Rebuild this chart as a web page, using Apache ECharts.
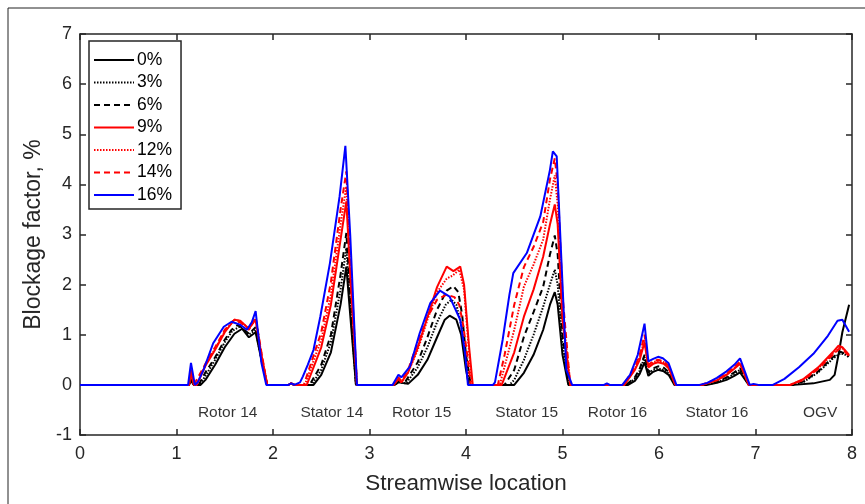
<!DOCTYPE html>
<html><head><meta charset="utf-8">
<script src="https://cdn.jsdelivr.net/npm/echarts@6/dist/echarts.min.js"></script>
<style>html,body{margin:0;padding:0;background:#fff}#c{width:865px;height:504px}</style>
</head><body><div id="c"></div>
<script>
var seriesNames = ['0%','3%','6%','9%','12%','14%','16%'];
var xTicks = [0,1,2,3,4,5,6,7,8];
var yTicks = [-1,0,1,2,3,4,5,6,7];
var stageNames = ['Rotor 14','Stator 14','Rotor 15','Stator 15','Rotor 16','Stator 16','OGV'];
var stageX = [1.53,2.61,3.54,4.63,5.57,6.6,7.67];
var stageY = [-0.56,-0.56,-0.56,-0.56,-0.56,-0.56,-0.56];

var p0 = [[0,0],[1.13,0],[1.15,0.08],[1.18,0],[1.25,0],[1.3,0.1],[1.4,0.4],[1.5,0.75],[1.6,1.02],[1.68,1.12],[1.75,0.95],[1.82,1.05],[1.88,0.5],[1.94,0],
[2.16,0],[2.19,0.03],[2.22,0],[2.42,0],[2.5,0.2],[2.6,0.65],[2.7,1.6],[2.76,2.36],[2.8,1.4],[2.86,0],
[3.26,0],[3.3,0.05],[3.4,0.02],[3.5,0.2],[3.6,0.5],[3.7,0.95],[3.78,1.3],[3.83,1.38],[3.9,1.3],[3.95,1.0],[4.0,0.3],[4.03,0],
[4.5,0],[4.6,0.24],[4.7,0.6],[4.8,1.1],[4.87,1.6],[4.92,1.85],[4.95,1.6],[5.0,0.6],[5.06,0],
[5.68,0],[5.75,0.08],[5.8,0.22],[5.85,0.45],[5.89,0.18],[5.94,0.26],[5.99,0.3],[6.05,0.27],[6.1,0.2],[6.16,0],
[6.5,0],[6.6,0.04],[6.7,0.1],[6.78,0.18],[6.84,0.25],[6.93,0],
[7.4,0],[7.6,0.03],[7.77,0.1],[7.82,0.2],[7.86,0.6],[7.9,1.05],[7.97,1.6]];

var p3 = [[0,0],[1.13,0],[1.15,0.12],[1.18,0],[1.24,0],[1.3,0.18],[1.4,0.5],[1.5,0.85],[1.58,1.08],[1.66,1.17],[1.75,1.0],[1.82,1.1],[1.88,0.5],[1.94,0],
[2.16,0],[2.19,0.03],[2.22,0],[2.4,0],[2.5,0.3],[2.6,0.85],[2.7,1.9],[2.76,2.73],[2.8,1.6],[2.86,0],
[3.26,0],[3.3,0.06],[3.38,0.03],[3.5,0.35],[3.6,0.75],[3.7,1.25],[3.79,1.6],[3.85,1.7],[3.9,1.6],[3.95,1.2],[4.0,0.5],[4.04,0],
[4.45,0],[4.5,0.1],[4.6,0.5],[4.7,1.0],[4.8,1.56],[4.87,2.0],[4.92,2.3],[4.95,2.0],[5.0,0.8],[5.07,0],
[5.66,0],[5.75,0.12],[5.8,0.28],[5.85,0.55],[5.89,0.22],[5.94,0.3],[5.99,0.33],[6.05,0.3],[6.1,0.23],[6.17,0],
[6.48,0],[6.6,0.05],[6.7,0.13],[6.78,0.22],[6.84,0.3],[6.93,0],
[7.38,0],[7.5,0.06],[7.65,0.25],[7.8,0.52],[7.88,0.63],[7.93,0.6],[7.97,0.55]];

var p6 = [[0,0],[1.13,0],[1.15,0.15],[1.18,0],[1.23,0],[1.3,0.25],[1.4,0.55],[1.5,0.9],[1.57,1.1],[1.64,1.2],[1.75,1.02],[1.82,1.15],[1.88,0.55],[1.94,0],
[2.16,0],[2.19,0.03],[2.22,0],[2.38,0],[2.5,0.4],[2.6,1.0],[2.7,2.2],[2.76,3.03],[2.8,1.8],[2.86,0],
[3.26,0],[3.3,0.08],[3.36,0.03],[3.5,0.45],[3.6,0.95],[3.7,1.5],[3.8,1.88],[3.87,1.97],[3.92,1.85],[3.96,1.4],[4.0,0.6],[4.05,0],
[4.4,0],[4.5,0.3],[4.6,0.96],[4.7,1.45],[4.8,1.96],[4.87,2.6],[4.92,2.98],[4.95,2.6],[5.0,1.0],[5.07,0],
[5.66,0],[5.75,0.15],[5.8,0.32],[5.85,0.6],[5.89,0.25],[5.94,0.33],[5.99,0.37],[6.05,0.34],[6.1,0.26],[6.17,0],
[6.47,0],[6.6,0.06],[6.7,0.15],[6.78,0.25],[6.84,0.33],[6.93,0],
[7.38,0],[7.5,0.07],[7.65,0.27],[7.8,0.55],[7.88,0.66],[7.93,0.62],[7.97,0.57]];

var p9 = [[0,0],[1.13,0],[1.15,0.25],[1.18,0],[1.21,0],[1.3,0.38],[1.4,0.7],[1.5,1.05],[1.6,1.3],[1.66,1.28],[1.75,1.12],[1.82,1.3],[1.88,0.6],[1.94,0],
[2.16,0],[2.19,0.03],[2.22,0],[2.35,0],[2.5,0.75],[2.6,1.6],[2.7,2.9],[2.76,3.66],[2.8,2.2],[2.87,0],
[3.25,0],[3.3,0.12],[3.33,0.05],[3.4,0.25],[3.5,0.75],[3.6,1.35],[3.7,1.95],[3.8,2.36],[3.87,2.27],[3.94,2.36],[3.98,2.0],[4.03,0.8],[4.07,0],
[4.37,0],[4.5,0.65],[4.6,1.36],[4.7,1.9],[4.8,2.56],[4.87,3.2],[4.92,3.6],[4.95,3.2],[5.0,1.3],[5.08,0],
[5.64,0],[5.75,0.3],[5.8,0.5],[5.85,0.85],[5.89,0.35],[5.94,0.42],[5.99,0.45],[6.05,0.42],[6.1,0.33],[6.17,0],
[6.45,0],[6.6,0.09],[6.7,0.2],[6.78,0.32],[6.84,0.42],[6.93,0],
[7.36,0],[7.5,0.12],[7.65,0.35],[7.8,0.65],[7.86,0.78],[7.9,0.75],[7.97,0.6]];

var p12 = [[0,0],[1.13,0],[1.15,0.28],[1.18,0],[1.21,0],[1.3,0.4],[1.4,0.72],[1.5,1.07],[1.6,1.3],[1.66,1.27],[1.75,1.12],[1.82,1.32],[1.88,0.6],[1.94,0],
[2.16,0],[2.19,0.03],[2.22,0],[2.33,0],[2.5,0.9],[2.6,1.8],[2.7,3.2],[2.76,3.96],[2.8,2.4],[2.87,0],
[3.25,0],[3.3,0.12],[3.33,0.05],[3.4,0.25],[3.5,0.7],[3.6,1.3],[3.7,1.85],[3.8,2.12],[3.86,2.18],[3.93,2.3],[3.98,1.9],[4.03,0.7],[4.06,0],
[4.35,0],[4.5,1.1],[4.6,1.96],[4.7,2.4],[4.8,2.9],[4.87,3.7],[4.92,4.18],[4.95,3.6],[5.0,1.5],[5.08,0],
[5.64,0],[5.75,0.32],[5.8,0.55],[5.85,0.9],[5.89,0.38],[5.94,0.45],[5.99,0.48],[6.05,0.45],[6.1,0.36],[6.17,0],
[6.45,0],[6.6,0.1],[6.7,0.21],[6.78,0.34],[6.84,0.44],[6.93,0],
[7.36,0],[7.5,0.11],[7.65,0.33],[7.8,0.62],[7.87,0.74],[7.91,0.72],[7.97,0.58]];

var p14 = [[0,0],[1.13,0],[1.15,0.3],[1.18,0],[1.2,0],[1.3,0.42],[1.4,0.75],[1.5,1.1],[1.59,1.28],[1.66,1.25],[1.75,1.1],[1.82,1.35],[1.88,0.65],[1.94,0],
[2.16,0],[2.19,0.03],[2.22,0],[2.32,0],[2.5,1.05],[2.6,2.05],[2.7,3.5],[2.76,4.26],[2.8,2.6],[2.87,0],
[3.25,0],[3.3,0.15],[3.33,0.08],[3.4,0.3],[3.5,0.85],[3.6,1.35],[3.7,1.7],[3.8,1.8],[3.88,1.75],[3.93,1.6],[3.97,1.2],[4.02,0.5],[4.05,0],
[4.33,0],[4.4,0.6],[4.5,1.6],[4.6,2.35],[4.7,2.75],[4.8,3.25],[4.87,4.1],[4.92,4.52],[4.95,4.0],[5.0,1.8],[5.08,0],
[5.63,0],[5.75,0.35],[5.8,0.6],[5.85,1.0],[5.89,0.4],[5.94,0.47],[5.99,0.5],[6.05,0.47],[6.1,0.38],[6.17,0],
[6.44,0],[6.6,0.11],[6.7,0.23],[6.78,0.36],[6.84,0.46],[6.93,0],
[7.36,0],[7.5,0.1],[7.65,0.32],[7.8,0.6],[7.87,0.72],[7.91,0.7],[7.97,0.57]];

var p16 = [[0,0],[1.12,0],[1.15,0.44],[1.19,0],[1.22,0.05],[1.28,0.3],[1.38,0.83],[1.49,1.16],[1.57,1.26],[1.66,1.2],[1.73,1.1],[1.78,1.25],[1.82,1.47],[1.88,0.44],[1.93,0],
[2.16,0],[2.19,0.03],[2.22,0],[2.28,0.05],[2.31,0.17],[2.36,0.4],[2.42,0.7],[2.49,1.36],[2.59,2.43],[2.69,3.76],[2.75,4.77],[2.8,3.0],[2.87,0],
[3.24,0],[3.27,0.1],[3.3,0.2],[3.33,0.15],[3.42,0.37],[3.52,1.03],[3.63,1.63],[3.73,1.88],[3.83,1.76],[3.94,1.3],[3.99,0.64],[4.02,0],
[4.28,0],[4.3,0.05],[4.38,0.9],[4.45,1.8],[4.49,2.23],[4.63,2.63],[4.77,3.36],[4.87,4.29],[4.9,4.66],[4.94,4.56],[4.99,2.43],[5.04,0.3],[5.1,0],
[5.43,0],[5.46,0.03],[5.49,0],[5.62,0],[5.7,0.2],[5.78,0.6],[5.85,1.22],[5.89,0.47],[5.94,0.52],[5.99,0.56],[6.04,0.53],[6.1,0.43],[6.18,0],
[6.42,0],[6.5,0.04],[6.6,0.14],[6.7,0.27],[6.78,0.4],[6.84,0.53],[6.94,0],[6.98,0.02],[7.03,0],
[7.18,0],[7.3,0.12],[7.45,0.35],[7.6,0.62],[7.75,0.98],[7.85,1.28],[7.9,1.3],[7.97,1.06]];

var seriesData = [p0,p3,p6,p9,p12,p14,p16];
var seriesColors = ['#000000','#000000','#000000','#ff0000','#ff0000','#ff0000','#0000ff'];
var seriesDash = ['solid',[1.5,1.5],[6,4],'solid',[1.5,1.5],[6,4],'solid'];

var TXT = '#262626';
var FONT = 'Liberation Sans, Arial, sans-serif';
var chart = echarts.init(document.getElementById('c'), null, {renderer:'canvas'});

var series = seriesNames.map(function(n,i){
  return {name:n,type:'line',data:seriesData[i],showSymbol:false,symbol:'none',
    xAxisIndex:0,yAxisIndex:0,
    lineStyle:{color:seriesColors[i],width:2,type:seriesDash[i]},
    itemStyle:{color:seriesColors[i]},animation:false,z:2+i};
});
series.push({type:'scatter',xAxisIndex:0,yAxisIndex:0,symbolSize:0,silent:true,animation:false,
  data:stageNames.map(function(s,i){return {value:[stageX[i],stageY[i]],name:s};}),
  label:{show:true,position:'inside',formatter:function(p){return p.name;},color:'#000',fontSize:15.5,fontFamily:FONT}});

var axCommon = {min:-1,max:7,interval:1};
chart.setOption({
  animation:false,
  backgroundColor:'#fff',
  textStyle:{fontFamily:FONT},
  graphic:[{type:'rect',shape:{x:8,y:8,width:900,height:600},style:{fill:'none',stroke:'#222',lineWidth:1},silent:true,z:0}],
  grid:{left:80,right:13,top:34,bottom:69,containLabel:false,show:false},
  legend:{data:seriesNames,
    orient:'vertical',left:89,top:41,padding:[10,9,5,4],itemWidth:40,itemHeight:14,itemGap:4.5,
    itemStyle:{color:'rgba(0,0,0,0)',borderColor:'rgba(0,0,0,0)',borderWidth:0},
    backgroundColor:'#fff',borderColor:TXT,borderWidth:1.5,borderRadius:0,
    textStyle:{fontSize:17.5,color:'#000',fontFamily:FONT,padding:[0,0,0,-2]},z:20},
  xAxis:[
    {type:'value',min:0,max:8,interval:1,position:'bottom',
     name:'Streamwise location',nameLocation:'middle',nameGap:37,
     nameTextStyle:{fontSize:22.5,color:TXT,fontFamily:FONT},
     axisLine:{show:true,onZero:false,lineStyle:{color:TXT,width:1.5}},
     axisTick:{show:true,inside:true,length:6,lineStyle:{color:TXT,width:1.5}},
     axisLabel:{show:true,fontSize:18,color:TXT,margin:10,fontFamily:FONT,
       formatter:function(v){return xTicks.indexOf(v)>=0?String(v):'';}},
     splitLine:{show:false}},
    {type:'value',min:0,max:8,interval:1,position:'top',
     axisLine:{show:true,onZero:false,lineStyle:{color:TXT,width:1.5}},
     axisTick:{show:true,inside:true,length:6,lineStyle:{color:TXT,width:1.5}},
     axisLabel:{show:false},splitLine:{show:false}}
  ],
  yAxis:[
    Object.assign({type:'value',position:'left',
     name:'Blockage factor, %',nameLocation:'middle',nameGap:25,
     nameTextStyle:{fontSize:23,color:TXT,fontFamily:FONT},
     axisLine:{show:true,onZero:false,lineStyle:{color:TXT,width:1.5}},
     axisTick:{show:true,inside:true,length:6,lineStyle:{color:TXT,width:1.5}},
     axisLabel:{show:true,fontSize:18,color:TXT,margin:8,fontFamily:FONT,
       formatter:function(v){return yTicks.indexOf(v)>=0?String(v):'';}},
     splitLine:{show:false}},axCommon),
    Object.assign({type:'value',position:'right',
     axisLine:{show:true,onZero:false,lineStyle:{color:TXT,width:1.5}},
     axisTick:{show:true,inside:true,length:6,lineStyle:{color:TXT,width:1.5}},
     axisLabel:{show:false},splitLine:{show:false}},axCommon)
  ],
  series:series
});
</script></body></html>
